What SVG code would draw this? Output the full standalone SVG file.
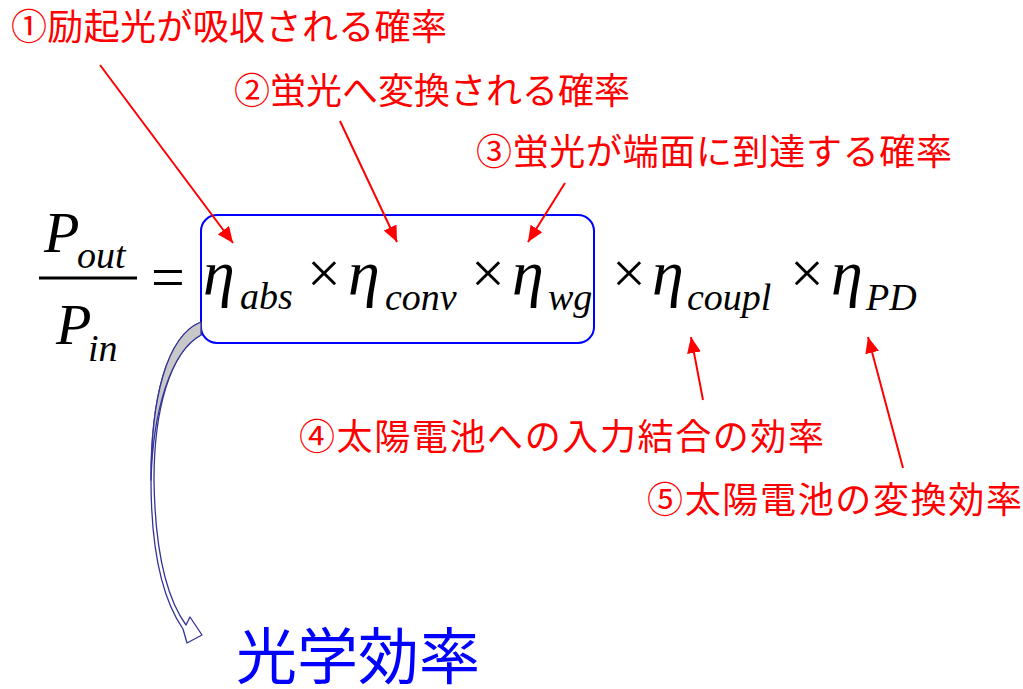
<svg xmlns="http://www.w3.org/2000/svg" width="1023" height="689" viewBox="0 0 1023 689">
  <defs>
    <style>
      .math { font-family: "Liberation Serif", "Times New Roman", serif; fill: #000; }
      .it { font-style: italic; }
      .eta { font-size: 64px; font-style: italic; }
      .sub { font-size: 38px; font-style: italic; }
      .op { font-size: 60px; }
      .lbl { font-family: "Noto Sans CJK JP", "Noto Sans", sans-serif; font-size: 36px; fill: #FF0000; }
      .blue { font-family: "Noto Sans CJK JP", "Noto Sans", sans-serif; font-size: 61px; fill: #0000FF; }
      .red-arrow { stroke: #FF0000; stroke-width: 2; fill: none; marker-end: url(#redhead); }
    </style>
    <marker id="redhead" viewBox="0 0 16 14" refX="16" refY="7" markerWidth="16" markerHeight="14" markerUnits="userSpaceOnUse" orient="auto">
      <path d="M0,0 L16,7 L0,14 Z" fill="#FF0000"/>
    </marker>
  </defs>
  <rect width="1023" height="689" fill="#FFFFFF"/>

  <g id="formula" class="math">
    <text class="it" x="44" y="252" font-size="58">P</text>
    <text class="sub" x="77" y="268">out</text>
    <line x1="39" y1="278" x2="137" y2="278" stroke="#000" stroke-width="3"/>
    <text class="it" x="56" y="344" font-size="58">P</text>
    <text class="sub" x="88" y="361">in</text>
    <text class="op" x="151" y="297">=</text>
    <text class="eta" x="203" y="294">η</text>
    <text class="sub" x="240" y="309">abs</text>
    <text class="op" x="307" y="293">×</text>
    <text class="eta" x="348" y="294">η</text>
    <text class="sub" x="385" y="310">conv</text>
    <text class="op" x="471" y="293">×</text>
    <text class="eta" x="512" y="294">η</text>
    <text class="sub" x="548" y="310">wg</text>
    <text class="op" x="612" y="293">×</text>
    <text class="eta" x="652" y="294">η</text>
    <text class="sub" x="687" y="310">coupl</text>
    <text class="op" x="790" y="293">×</text>
    <text class="eta" x="831" y="294">η</text>
    <text class="sub" x="866" y="310">PD</text>
  </g>

  <g id="optical-box">
    <rect x="201" y="215" width="393" height="128" rx="16" ry="16" fill="none" stroke="#0000FF" stroke-width="2"/>
  </g>

  <g id="label1"><text class="lbl" x="11" y="40" textLength="436" lengthAdjust="spacing">①励起光が吸収される確率</text></g>
  <g id="label2"><text class="lbl" x="234" y="104" textLength="396" lengthAdjust="spacing">②蛍光へ変換される確率</text></g>
  <g id="label3"><text class="lbl" x="476" y="165" textLength="476" lengthAdjust="spacing">③蛍光が端面に到達する確率</text></g>
  <g id="label4"><text class="lbl" x="299" y="450" textLength="525" lengthAdjust="spacing">④太陽電池への入力結合の効率</text></g>
  <g id="label5"><text class="lbl" x="647" y="513" textLength="375" lengthAdjust="spacing">⑤太陽電池の変換効率</text></g>
  <g id="label-optical"><text class="blue" x="236" y="679">光学効率</text></g>

  <g id="connectors">
    <path class="red-arrow" d="M100,65 L233,243"/>
    <path class="red-arrow" d="M340,121 L397,242"/>
    <path class="red-arrow" d="M565,183 L528,242"/>
    <path class="red-arrow" d="M703,400 L691,337"/>
    <path class="red-arrow" d="M903,468 L868,337"/>
    <g id="curved-arrow" stroke="#333399" stroke-width="1.3" stroke-linejoin="round">
      <path d="M201,322 C166,336 151,400 151,480 C151,555 163,600 183,629 L187,643 L202,635 L190,617 L186,625 C168,600 155,555 154,480 C154,410 170,352 201,335 Z" fill="#FFFFFF"/>
      <path d="M201,322 C166,336 151,400 151,480 C153,412 170,352 201,335 Z" fill="#C8C8C8"/>
    </g>
  </g>
</svg>
